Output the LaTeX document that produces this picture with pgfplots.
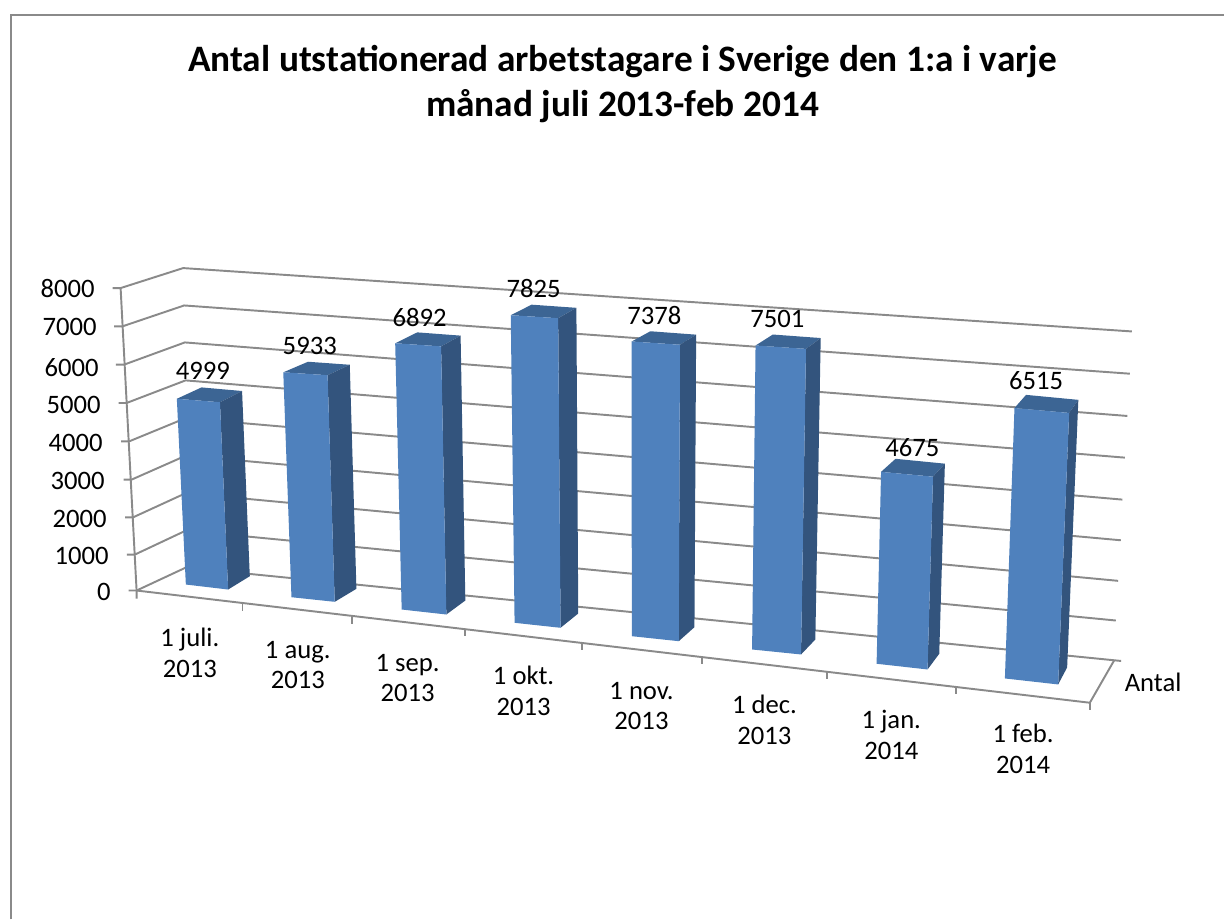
\documentclass[border=0pt]{standalone}
\usepackage{pgfplots}
\pgfplotsset{compat=1.18}
\usepackage{fontspec}
\setmainfont{Carlito}
\definecolor{front}{HTML}{4F81BD}
\definecolor{side}{HTML}{33547D}
\definecolor{topf}{HTML}{3C6594}
\definecolor{gridc}{HTML}{8A8A8A}
\pgfplotsset{barface/.style={draw=none,fill=#1,forget plot},
  gl/.style={gridc,line width=1.45pt,forget plot}}
\def\XE{\thisrow{x}+\thisrow{v}/8000*(-16+(\thisrow{x}-137)*0.03197)}
\def\YE{\thisrow{y}-\thisrow{k}*\thisrow{v}/8000*(297.5+(\thisrow{x}-186)*0.0425+(\thisrow{x}-186)*(1006-\thisrow{x})*0.00002)}
\begin{document}
\begin{tikzpicture}
\begin{axis}[
  scale only axis, width=918.75pt, height=690pt,
  xmin=0, xmax=1225, ymin=0, ymax=920, y dir=reverse,
  hide axis, clip=false]
\path (axis cs:0,0) (axis cs:1225,920);
% frame
\addplot[gl,line width=1.5pt] coordinates {(11,920) (11,14.6) (1225,14.6)};
% level lines: tick, front-left, back-left, back-right
\addplot[gl] coordinates {(112.7,288.3) (120.7,288.3) (183.3,268.3) (1132.7,331.7)};
\addplot[gl] coordinates {(114.3,326.7) (122.3,326.7) (184.3,305.7) (1130.7,374)};
\addplot[gl] coordinates {(116,365) (124,365) (185,342.7) (1128.3,416.3)};
\addplot[gl] coordinates {(118.7,403.3) (126.7,403.3) (185.7,380.7) (1125.7,458)};
\addplot[gl] coordinates {(121.3,441.7) (129.3,441.7) (185.7,418.5) (1123.3,500)};
\addplot[gl] coordinates {(123.7,480) (131.7,480) (186,456) (1121.7,540.7)};
\addplot[gl] coordinates {(125.3,517.7) (133.3,517.7) (186,493.5) (1119,581.3)};
\addplot[gl] coordinates {(127,555) (135,555) (186,531) (1116.7,621)};
\addplot[gl] coordinates {(128.7,591) (136.7,591) (186,568) (1122,661.5)};
% front vertical
\addplot[gl] coordinates {(120.7,288.3) (136.7,591) (136.7,599)};
% floor front and right
\addplot[gl] coordinates {(136.7,591) (1090.7,703.3) (1115,661)};
% front ticks
\addplot[gl] coordinates {(242.7,603.5) (242.7,611)};
\addplot[gl] coordinates {(352.3,616.4) (352.3,624)};
\addplot[gl] coordinates {(465,629.6) (465,637)};
\addplot[gl] coordinates {(582.3,643.4) (582.3,651)};
\addplot[gl] coordinates {(702.7,657.6) (702.7,665)};
\addplot[gl] coordinates {(827.7,672.3) (827.7,680)};
\addplot[gl] coordinates {(956.7,687.5) (956.7,695)};
\addplot[gl] coordinates {(1090.7,703.3) (1090.7,711)};
% bars: value, then foot points (front-left, front-right, back-right, back-left)
\def\OneBar#1#2#3#4#5#6#7#8#9{%
  \addplot[barface=topf] table[row sep=\\,x expr=\XE,y expr=\YE]
    {x y v k\\ #2 #3 #1 1\\ #4 #5 #1 1\\ #6 #7 #1 0.985\\ #8 #9 #1 0.985\\};
  \addplot[barface=side] table[row sep=\\,x expr=\XE,y expr=\YE]
    {x y v k\\ #4 #5 0 1\\ #6 #7 0 1\\ #6 #7 #1 0.985\\ #4 #5 #1 1\\};
  \addplot[barface=front] table[row sep=\\,x expr=\XE,y expr=\YE]
    {x y v k\\ #2 #3 0 1\\ #4 #5 0 1\\ #4 #5 #1 1\\ #2 #3 #1 1\\};
}
\OneBar{4999}{186}{585}{228.3}{590}{250}{576.7}{210.2}{571.7}
\OneBar{5933}{291.7}{597.7}{335}{602.3}{356.7}{589.3}{315.9}{584.7}
\OneBar{6892}{402}{610}{446.7}{615}{465.7}{601}{423.5}{596}
\OneBar{7825}{515}{623.3}{561}{628.3}{578.7}{614}{535.2}{609}
\OneBar{7378}{632.3}{636.7}{679.3}{641.7}{695}{627.7}{650.5}{622.7}
\OneBar{7501}{752.7}{650}{801.7}{655}{816}{640}{769.5}{635}
\OneBar{4675}{877.3}{664.3}{928.3}{670}{940}{654.3}{891.5}{648.6}
\OneBar{6515}{1005.7}{679}{1059}{685}{1068}{668}{1017}{662}
% title
\node[font=\fontsize{28pt}{33.8pt}\selectfont\bfseries,align=center] at (axis cs:623,84) {Antal utstationerad arbetstagare i Sverige den 1:a i varje\\månad juli 2013-feb 2014};
% y labels
\def\TL#1#2#3{\node[font=\fontsize{20pt}{23pt}\selectfont,anchor=east,inner sep=0pt] at (axis cs:#1,#2) {#3};}
\TL{95}{288.5}{8000}\TL{97}{327.5}{7000}\TL{99}{367.5}{6000}\TL{101}{405.5}{5000}\TL{103}{443.5}{4000}\TL{105}{481.5}{3000}\TL{107}{519.5}{2000}\TL{109}{556.5}{1000}\TL{111}{592.5}{0}
\def\XL#1#2#3#4{\node[font=\fontsize{20pt}{23pt}\selectfont,align=center,inner sep=0pt] at (axis cs:#1,#2) {#3\\#4};}
\XL{190}{653.5}{1 juli.}{2013}
\XL{298}{665.5}{1 aug.}{2013}
\XL{408}{678.5}{1 sep.}{2013}
\XL{524}{691.5}{1 okt.}{2013}
\XL{642}{706.5}{1 nov.}{2013}
\XL{765}{720.5}{1 dec.}{2013}
\XL{892}{735.5}{1 jan.}{2014}
\XL{1024}{749.5}{1 feb.}{2014}
\def\DL#1#2#3{\node[font=\fontsize{20pt}{23pt}\selectfont,inner sep=0pt] at (axis cs:#1,#2) {#3};}
\DL{203}{371.5}{4999}\DL{310}{346.5}{5933}\DL{420}{317.5}{6892}\DL{534}{288.5}{7825}\DL{655}{315.5}{7378}\DL{778}{319.5}{7501}\DL{913}{447.5}{4675}\DL{1037}{380.5}{6515}
\DL{1154}{682.5}{Antal}
\end{axis}
\end{tikzpicture}
\end{document}
